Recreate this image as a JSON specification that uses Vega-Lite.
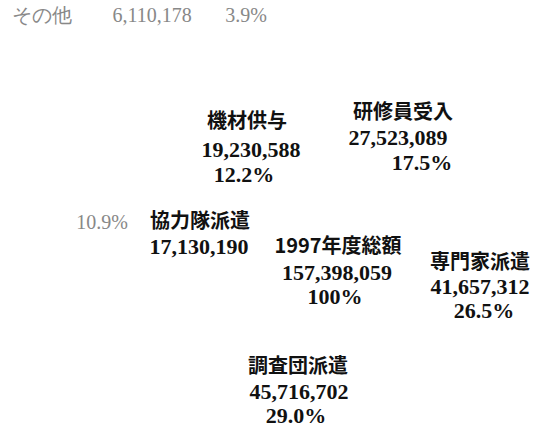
{
  "$schema": "https://vega.github.io/schema/vega-lite/v6.json",
  "autosize": {"type": "fit", "contains": "padding"},
  "width": 536,
  "height": 431,
  "padding": 0,
  "background": "white",
  "config": {"view": {"stroke": null}},
  "data": {"values": [
    {"segment": "その他", "role": "title", "text": "その他", "x": 42, "y": 16},
    {"segment": "その他", "role": "amount", "text": "6,110,178", "x": 152, "y": 16},
    {"segment": "その他", "role": "share", "text": "3.9%", "x": 246, "y": 16},
    {"segment": "機材供与", "role": "title", "text": "機材供与", "x": 247, "y": 122},
    {"segment": "機材供与", "role": "amount", "text": "19,230,588", "x": 251, "y": 150},
    {"segment": "機材供与", "role": "share", "text": "12.2%", "x": 244, "y": 175},
    {"segment": "研修員受入", "role": "title", "text": "研修員受入", "x": 403, "y": 113},
    {"segment": "研修員受入", "role": "amount", "text": "27,523,089", "x": 398, "y": 138},
    {"segment": "研修員受入", "role": "share", "text": "17.5%", "x": 422, "y": 163},
    {"segment": "協力隊派遣", "role": "share", "text": "10.9%", "x": 102, "y": 223},
    {"segment": "協力隊派遣", "role": "title", "text": "協力隊派遣", "x": 200, "y": 222},
    {"segment": "協力隊派遣", "role": "amount", "text": "17,130,190", "x": 199, "y": 247},
    {"segment": "1997年度総額", "role": "title", "text": "1997年度総額", "x": 338, "y": 247},
    {"segment": "1997年度総額", "role": "amount", "text": "157,398,059", "x": 337, "y": 273},
    {"segment": "1997年度総額", "role": "share", "text": "100%", "x": 335, "y": 297},
    {"segment": "専門家派遣", "role": "title", "text": "専門家派遣", "x": 480, "y": 263},
    {"segment": "専門家派遣", "role": "amount", "text": "41,657,312", "x": 480, "y": 287},
    {"segment": "専門家派遣", "role": "share", "text": "26.5%", "x": 484, "y": 311},
    {"segment": "調査団派遣", "role": "title", "text": "調査団派遣", "x": 298, "y": 367},
    {"segment": "調査団派遣", "role": "amount", "text": "45,716,702", "x": 299, "y": 392},
    {"segment": "調査団派遣", "role": "share", "text": "29.0%", "x": 296, "y": 416}
  ]},
  "encoding": {
    "x": {"field": "x", "type": "quantitative", "scale": {"domain": [0, 536]}, "axis": null},
    "y": {"field": "y", "type": "quantitative", "scale": {"domain": [0, 431], "reverse": true}, "axis": null},
    "text": {"field": "text"}
  },
  "layer": [
    {
      "transform": [{"filter": "datum.role === 'title' && datum.segment !== 'その他'"}],
      "mark": {"type": "text", "align": "center", "baseline": "middle", "font": "Noto Sans CJK JP", "fontWeight": "bold", "fontSize": 20, "color": "#111"}
    },
    {
      "transform": [{"filter": "datum.role !== 'title' && datum.segment !== 'その他' && !(datum.segment === '協力隊派遣' && datum.role === 'share')"}],
      "mark": {"type": "text", "align": "center", "baseline": "middle", "font": "Liberation Serif", "fontWeight": "bold", "fontSize": 22, "color": "#111"}
    },
    {
      "transform": [{"filter": "datum.segment === 'その他' || (datum.segment === '協力隊派遣' && datum.role === 'share')"}],
      "mark": {"type": "text", "align": "center", "baseline": "middle", "font": "Liberation Serif", "fontWeight": "normal", "fontSize": 20, "color": "#888"}
    }
  ]
}
